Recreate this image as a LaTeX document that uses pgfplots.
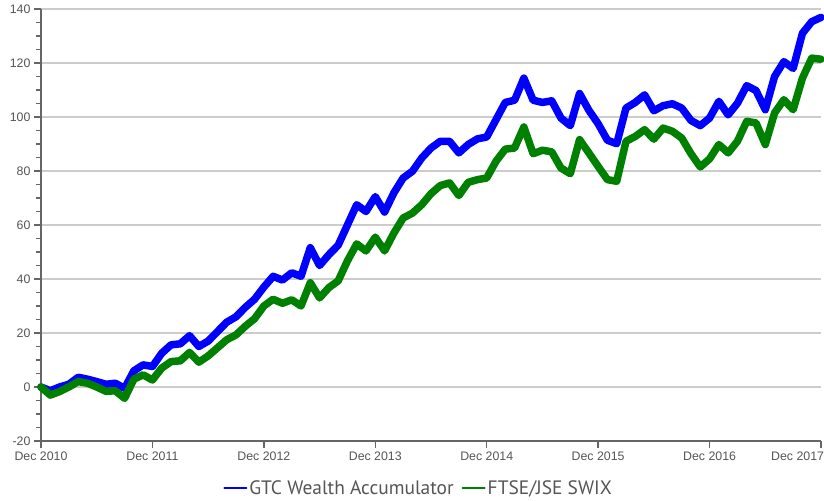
\documentclass[border=0pt]{standalone}
\usepackage{fontspec}
\setmainfont{Liberation Sans}
\newfontfamily\legfont{PT Sans}
\usepackage{pgfplots}
\usepackage{pgfplotstable}
\pgfplotsset{compat=1.18}
\usetikzlibrary{calc}
\definecolor{tickgray}{HTML}{555555}
\definecolor{axisgray}{HTML}{666666}
\definecolor{gridgray}{HTML}{CCCCCC}
\definecolor{gtcblue}{HTML}{0000FF}
\definecolor{swixgreen}{HTML}{008000}

\pgfplotstableread{
m gtc swix
0 0 0
1 -1.4 -3
2 0 -1.7
3 1 0
4 3.6 2
5 2.9 1.4
6 2 0
7 1 -1.6
8 1.4 -1.4
9 -0.5 -4.2
10 6 2.9
11 8.2 4.5
12 7.6 2.6
13 12.5 7
14 15.6 9.4
15 16 9.7
16 19 12.8
17 15 9.2
18 17 11.5
19 20.5 14.5
20 24 17.5
21 26 19.3
22 29.5 22.5
23 32.5 25.3
24 37 30
25 41 32.5
26 39.6 31
27 42.3 32.3
28 41 30
29 51.6 38.6
30 45 33
31 49 36.8
32 52.5 39.3
33 60 46.7
34 67.5 53
35 65 50.4
36 70.5 55.5
37 64.8 50.4
38 71.9 57
39 77.4 62.6
40 79.9 64.4
41 84.8 67.5
42 88.5 71.6
43 91 74.6
44 91 75.6
45 86.7 70.9
46 89.8 75.8
47 91.9 76.8
48 92.6 77.4
49 99 83.6
50 105.4 88.1
51 106.2 88.5
52 114.4 96.3
53 106.2 86.4
54 105.4 87.7
55 106 87.1
56 99.6 81.1
57 96.8 79
58 108.7 91.6
59 102.5 86.7
60 97.5 81.7
61 91.4 76.8
62 90.1 76.2
63 103.3 91
64 105.4 92.8
65 108.2 95.3
66 102.3 91.8
67 104.2 95.9
68 104.9 94.7
69 103.3 92.2
70 98.7 86.4
71 96.8 81.5
72 99.6 84.5
73 105.8 89.8
74 100.8 86.7
75 105.1 91
76 111.6 98.4
77 109.8 97.8
78 102.7 89.8
79 115 101.5
80 120.5 106.4
81 118 102.7
82 131 114.4
83 135.3 121.8
84 136.9 121.4
}\datatable

\begin{document}
\begin{tikzpicture}
\begin{axis}[
  scale only axis, width=780bp, height=432bp,
  xmin=0, xmax=84, ymin=-20, ymax=140,
  axis x line=bottom, axis y line=left,
  axis line style={-, draw=axisgray, line width=1.5bp},
  xtick={0,12,...,84},
  xticklabels={Dec 2010,Dec 2011,Dec 2012,Dec 2013,Dec 2014,Dec 2015,Dec 2016,\makebox[6bp][r]{Dec 2017}},
  ytick={-20,0,...,140}, minor y tick num=3,
  ymajorgrids, major grid style={draw=gridgray, line width=1.2bp},
  tick align=outside, major tick length=7bp, minor tick length=5bp,
  major tick style={draw=axisgray, line width=1.5bp},
  minor tick style={draw=axisgray, line width=1.5bp},
  tick label style={font=\fontsize{12.4}{14}\selectfont, text=tickgray},
  /pgf/number format/assume math mode=true,
  legend style={at={(0.484,-0.109)}, anchor=center, draw=none, fill=none,
    legend columns=2, font=\legfont\fontsize{19.5}{22}\selectfont, text=tickgray,
    /tikz/every even column/.append style={column sep=6bp}},
  legend image code/.code={\draw[line width=2bp] (0bp,0bp) -- (22bp,0bp);},
  clip=false,
]
\addplot[gtcblue, line width=7.5bp, line join=round, line cap=round] table[x=m, y=gtc] {\datatable};
\addlegendentry{GTC Wealth Accumulator}
\addplot[swixgreen, line width=7.5bp, line join=round, line cap=round] table[x=m, y=swix] {\datatable};
\addlegendentry{FTSE/JSE SWIX}
\coordinate (bl) at (rel axis cs:0,0);
\coordinate (tr) at (rel axis cs:1,1);
\end{axis}
\pgfresetboundingbox
\path ($(bl)+(-41bp,-60bp)$) rectangle ($(tr)+(3bp,9bp)$);
\end{tikzpicture}
\end{document}
